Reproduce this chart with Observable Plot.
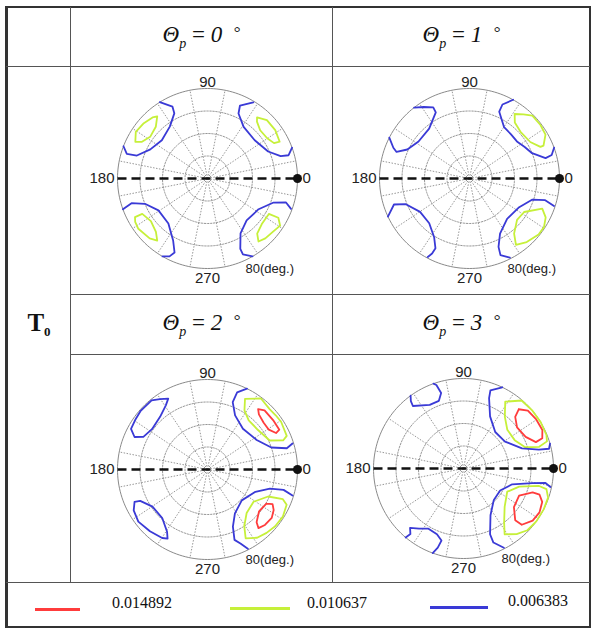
<!DOCTYPE html>
<html>
<head>
<meta charset="utf-8">
<script src="https://cdn.jsdelivr.net/npm/d3@7"></script>
<script src="https://cdn.jsdelivr.net/npm/@observablehq/plot@0.6"></script>
<style>
  body { margin: 0; background: #fff; }
  #root { position: relative; width: 594px; height: 631px; font-family: "Liberation Serif", "Times New Roman", serif; color: #111; }
  .abs { position: absolute; }
  .hl { position: absolute; height: 1px; background: #555; }
  .vl { position: absolute; width: 1px; background: #555; }
  .hdr { position: absolute; display: flex; align-items: center; justify-content: center; font-size: 23px; }
  .hdr sub { font-size: 14px; vertical-align: -6px; }
  .hdr sup { font-size: 17px; vertical-align: 4px; }
  .lg { position: absolute; font-size: 16px; line-height: 18px; }
  .sw { position: absolute; }
</style>
</head>
<body>
<div id="root"></div>
<script>
// ---------------- data ----------------
const thetaP = [0, 1, 2, 3];                       // panel headers (degrees)
const levels = [0.014892, 0.010637, 0.006383];     // contour levels
const levelColors = ["#ff3c3c", "#c6f03a", "#3a3ad6"];
const azimuthTicks = [0, 90, 180, 270];
const ringTilts = [20, 40, 60];
const radialMax = 80;
const spokeAzimuths = [11.25, 33.75, 56.25, 78.75, 101.25, 123.75, 146.25, 168.75,
                       191.25, 213.75, 236.25, 258.75, 281.25, 303.75, 326.25, 348.75];

// contours: [azimuth (deg), tilt (deg)]
const contoursP0 = [
  {level: 0.006383, pts: [[59,79],[66,71],[64.5,64],[55,56],[39,54],[24,59],[17,68],[16,75],[20,80]]},
  {level: 0.010637, pts: [[51,70],[44.5,74],[35.5,74],[27,72],[28,67],[34,64],[42.5,63.5],[49,67],[51,70]]},
  {level: 0.006383, pts: [[122,80],[116,71],[117,65],[126,57],[140,53],[153,57],[162,66],[163,75],[159,80]]},
  {level: 0.010637, pts: [[129,71],[135,65],[144,63],[151,67],[153,72],[147,76],[139,75],[132,73],[129,71]]},
  {level: 0.006383, pts: [[200,80],[198,71],[202,60],[213,52],[229,53],[241,63],[246,72],[244,77],[240,80]]},
  {level: 0.010637, pts: [[208,73],[208.5,66],[217,63],[226,66],[231,71],[226,74],[216,76],[211,75],[208,73]]},
  {level: 0.006383, pts: [[340,79],[343,73],[340,62.5],[329,53],[313,51],[301,57],[295,69],[295,74.5],[300,80]]},
  {level: 0.010637, pts: [[330,63],[331,72],[327,77],[321,75],[314,74],[309,72],[312,66],[320,63],[330,63]]}
];
const contoursP1 = [
  {level: 0.006383, pts: [[128,80],[117,71],[117,66],[129,57],[144,56],[155,61],[160,69],[158,73],[153,80]]},
  {level: 0.006383, pts: [[61,80],[66,72],[66,65],[56,55],[38,53.5],[22,60],[15,70],[16,76],[20,80]]},
  {level: 0.010637, pts: [[55,70],[45,79],[37,79],[30,78],[24,72],[24,69],[31,63],[42.5,61.5],[51,64],[55,70]]},
  {level: 0.006383, pts: [[205,80],[199,71],[202,61],[214,53],[228,53.5],[239,61],[244,69],[243.5,74.5],[242,79]]},
  {level: 0.006383, pts: [[342,79],[344,70],[341.5,59],[330,51],[313,49],[299,56],[293,66],[292,73.5],[297,79]]},
  {level: 0.010637, pts: [[328.5,57],[337.5,70],[333,76],[327,79],[321,79],[312,76],[305,72],[309,63],[319,56],[328.5,57]]}
];
const contoursP2 = [
  {level: 0.006383, pts: [[152,77],[139,79],[129,79],[119,72],[123,68],[132,63],[144,61],[153,64],[156,71],[152,77]]},
  {level: 0.006383, pts: [[64,80],[69,73.5],[69.5,64],[63,54],[49,48],[31,51],[19,60],[15,73],[17,79]]},
  {level: 0.010637, pts: [[62,71],[53,79],[44,77],[33,78],[23,76.5],[21,72],[25,61],[38,57],[50,57],[58,62],[62,71]]},
  {level: 0.014892, pts: [[50,70],[46,73],[37,73],[29,73],[28,69],[33,65],[40,65],[47,67],[50,70]]},
  {level: 0.006383, pts: [[204,71],[205,66],[214,59],[227,59],[237,66],[240,71],[236.5,73],[227,75],[217,77],[209,75],[204,71]]},
  {level: 0.006383, pts: [[343,79],[345,70],[343,58],[335,47],[318,41],[302,46],[294,55.5],[291,67],[294,72],[297,79]]},
  {level: 0.010637, pts: [[325,50],[336,59],[338.5,72],[336,77],[328,79],[320,78.5],[313,77],[306,75],[299,70],[303,60],[312,52],[325,50]]},
  {level: 0.014892, pts: [[330,60.5],[332,65.5],[328.5,69],[323,71.5],[316,71],[311,69],[313,64],[321,59],[330,60.5]]}
];
const contoursP3 = [
  {level: 0.006383, pts: [[109.5,80],[108,78],[106.5,70],[110,64],[118,64],[129,71.5],[128,76],[126,80]]},
  {level: 0.006383, pts: [[64.5,80],[71,73.5],[70,66.5],[63,52],[49,43],[33,44],[19,55],[14,69],[13,78],[16,80]]},
  {level: 0.010637, pts: [[58,70],[49.5,79.5],[40,80],[31,80],[22,79.5],[18,78],[16,70],[19,58],[29,52],[41.5,52],[51.5,59],[58,70]]},
  {level: 0.014892, pts: [[47,72],[42,77],[34,78],[26,78],[21,75],[20,68.5],[27,62],[37.5,60],[45,65],[47,72]]},
  {level: 0.006383, pts: [[230,80],[231,75],[228,71],[239.5,62],[248,63],[253,67],[252,74],[250,80]]},
  {level: 0.006383, pts: [[348,79],[350,74],[348,62.5],[342,45.5],[329,38],[313.5,39],[300,48],[292,63],[292,71],[297,79]]},
  {level: 0.010637, pts: [[332,44],[342,52],[347,69],[346,76],[341,79.5],[333,80],[324,80],[316,79],[309,75],[302,69],[307,60],[317,50],[332,44]]},
  {level: 0.014892, pts: [[334,55],[341,65],[341,71.5],[337,76],[330,78],[323,77],[316,72],[315,65],[322.5,56.5],[334,55]]}
];

// ---------------- layout ----------------
const root = document.getElementById("root");
function el(tag, cls, style, html) {
  const e = document.createElement(tag);
  if (cls) e.className = cls;
  Object.assign(e.style, style);
  if (html != null) e.innerHTML = html;
  root.appendChild(e);
  return e;
}
// outer frame
el("div", "abs", {left: "5px", top: "6px", width: "586px", height: "622px", border: "2px solid #333", borderLeftWidth: "3px", boxSizing: "border-box"});
el("div", "vl", {left: "70px", top: "7px", height: "575px"});
el("div", "vl", {left: "332px", top: "7px", height: "575px"});
el("div", "hl", {left: "6px", top: "66px", width: "584px"});
el("div", "hl", {left: "70px", top: "294px", width: "520px"});
el("div", "hl", {left: "70px", top: "354px", width: "520px"});
el("div", "hl", {left: "6px", top: "582px", width: "584px"});

const hdrCells = [
  {left: 71, top: 8, width: 261, height: 58},
  {left: 333, top: 8, width: 257, height: 58},
  {left: 71, top: 295, width: 261, height: 59},
  {left: 333, top: 295, width: 257, height: 59}
];
thetaP.forEach((t, i) => {
  const c = hdrCells[i];
  el("div", "hdr", {left: c.left + "px", top: c.top + "px", width: c.width + "px", height: c.height + "px"},
     `<span><i>Θ</i><sub><i>p</i></sub>&nbsp;=&nbsp;<i>${t}</i>&nbsp;&nbsp;<sup>°</sup></span>`);
});
el("div", "hdr", {left: "8px", top: "67px", width: "62px", height: "515px", fontSize: "25px", fontWeight: "bold"},
   `<span>T<sub style="font-size:13px;vertical-align:-5px">0</sub></span>`);

// legend
const legendPos = [
  {lx: 35, lw: 45, ly: 608, lh: 3, tx: 112, ty: 594},
  {lx: 230, lw: 60, ly: 607, lh: 2.5, tx: 307, ty: 594},
  {lx: 430, lw: 58, ly: 606, lh: 3, tx: 508, ty: 592}
];
levels.forEach((v, i) => {
  const p = legendPos[i];
  el("div", "sw", {left: p.lx + "px", top: p.ly + "px", width: p.lw + "px", height: p.lh + "px", background: levelColors[i]});
  el("div", "lg", {left: p.tx + "px", top: p.ty + "px"}, v.toFixed(6));
});

// ---------------- polar panels ----------------
const panelBoxes = [
  {data: contoursP0, left: 70, top: 66, width: 262, height: 228, cx: 137, cy: 112},
  {data: contoursP1, left: 332, top: 66, width: 258, height: 228, cx: 137, cy: 112},
  {data: contoursP2, left: 70, top: 354, width: 262, height: 227, cx: 137, cy: 115},
  {data: contoursP3, left: 332, top: 354, width: 258, height: 227, cx: 131, cy: 114}
];
const R = 90;
const rimLat = 90 - radialMax;
const pole = [0, 90];

function panel(b) {
  const rows = b.data.flatMap((c, i) => c.pts.map(([az, tilt]) => ({az, lat: 90 - tilt, id: i, level: c.level})));
  const lineMarks = levels.map((lv, k) =>
    Plot.line(rows.filter(d => d.level === lv), {x: "az", y: "lat", z: "id", stroke: levelColors[k], strokeWidth: 1.8})
  );
  const txt = {fontSize: 15, fill: "#222", fontFamily: "Liberation Sans, Arial, sans-serif"};
  return Plot.plot({
    width: b.width,
    height: b.height,
    marginLeft: b.cx - R,
    marginTop: b.cy - R,
    marginRight: b.width - b.cx - R,
    marginBottom: b.height - b.cy - R,
    style: {background: "transparent", overflow: "visible"},
    projection: {
      type: "azimuthal-equidistant",
      rotate: [90, -90],
      clip: false,
      domain: d3.geoCircle().center(pole).radius(radialMax)()
    },
    marks: [
      Plot.geo(ringTilts.map(r => d3.geoCircle().center(pole).radius(r)()), {stroke: "#8a8a8a", strokeWidth: 0.9, strokeDasharray: "1.5,1.5", fill: "none"}),
      Plot.link(spokeAzimuths, {x1: d => d, y1: 90, x2: d => d, y2: rimLat, stroke: "#8a8a8a", strokeWidth: 0.9, strokeDasharray: "1.5,1.5"}),
      Plot.geo([d3.geoCircle().center(pole).radius(radialMax)()], {stroke: "#8a8a8a", strokeWidth: 1, fill: "none"}),
      ...lineMarks,
      Plot.link([[180, 0]], {x1: d => d[0], y1: rimLat, x2: d => d[1], y2: rimLat, stroke: "#111", strokeWidth: 2.7, strokeDasharray: "9,5", markerEnd: "dot"}),
      Plot.text(azimuthTicks.filter(a => a === 90), {x: d => d, y: rimLat, text: d => `${d}`, lineAnchor: "bottom", dy: -2, ...txt}),
      Plot.text(azimuthTicks.filter(a => a === 270), {x: d => d, y: rimLat, text: d => `${d}`, lineAnchor: "top", dy: 4, ...txt}),
      Plot.text(azimuthTicks.filter(a => a === 180), {x: d => d, y: rimLat, text: d => `${d}`, textAnchor: "end", dx: -3, ...txt}),
      Plot.text(azimuthTicks.filter(a => a === 0), {x: d => d, y: rimLat, text: d => `${d}`, textAnchor: "start", dx: 5, ...txt}),
      Plot.text([radialMax], {x: 295, y: d => 90 - d, text: d => `${d}(deg.)`, textAnchor: "start", dy: 9, ...txt, fontSize: 13})
    ]
  });
}

panelBoxes.forEach(b => {
  const svg = panel(b);
  svg.style.position = "absolute";
  svg.style.left = b.left + "px";
  svg.style.top = b.top + "px";
  root.appendChild(svg);
});
</script>
</body>
</html>
